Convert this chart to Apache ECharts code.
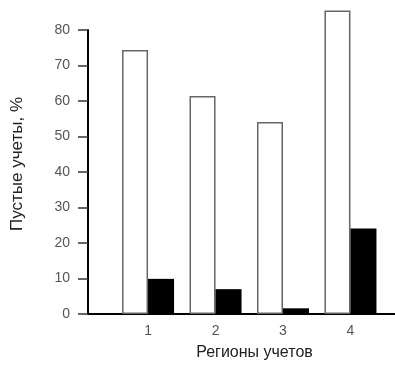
<!DOCTYPE html>
<html>
<head>
<meta charset="utf-8">
<script src="https://cdn.jsdelivr.net/npm/echarts@6/dist/echarts.min.js"></script>
<style>html,body{margin:0;padding:0;background:#fff}#c{width:395px;height:365px}</style>
</head>
<body>
<div id="c"></div>
<script>
const categories = [1, 2, 3, 4];
const categoryLabels = ['1', '2', '3', '4'];
const whiteValues = [74.4, 61.4, 54.1, 85.5];
const blackValues = [9.9, 7.0, 1.6, 24.1];
const yTicks = [0, 10, 20, 30, 40, 50, 60, 70, 80];

const chart = echarts.init(document.getElementById('c'));
chart.setOption({
  animation: false,
  backgroundColor: '#fff',
  grid: { left: 88, right: 0, top: 30, bottom: 51, containLabel: false, outerBoundsMode: 'none' },
  xAxis: {
    type: 'value',
    min: 0.11,
    max: 4.66,
    name: 'Регионы учетов',
    nameLocation: 'middle',
    nameGap: 31,
    nameTextStyle: { fontFamily: 'Liberation Sans', fontSize: 16, color: '#222', padding: [0, 0, 0, 26] },
    axisLine: { show: true, lineStyle: { color: '#000', width: 2 } },
    axisTick: { show: false },
    splitLine: { show: false },
    axisLabel: {
      customValues: categories,
      formatter: v => categoryLabels[categories.indexOf(v)] ?? '',
      fontFamily: 'Liberation Sans', fontSize: 14, color: '#555', margin: 10
    }
  },
  yAxis: {
    type: 'value',
    min: 0,
    max: 80,
    interval: 10,
    name: 'Пустые учеты, %',
    nameLocation: 'middle',
    nameGap: 62,
    nameRotate: 90,
    nameTextStyle: { fontFamily: 'Liberation Sans', fontSize: 17, color: '#222', padding: [0, 0, 0, 16] },
    axisLine: { show: true, lineStyle: { color: '#000', width: 2 } },
    axisTick: { show: true, length: 10, lineStyle: { color: '#333', width: 1.5 } },
    splitLine: { show: false },
    axisLabel: { fontFamily: 'Liberation Sans', fontSize: 14, color: '#555', margin: 18 }
  },
  series: [
    {
      type: 'bar',
      clip: false,
      barWidth: 26,
      barGap: '0%',
      data: categories.map((c, i) => [c, whiteValues[i]]),
      itemStyle: { color: '#fff', borderColor: '#666', borderWidth: 1.5 }
    },
    {
      type: 'bar',
      clip: false,
      barWidth: 26,
      barGap: '0%',
      data: categories.map((c, i) => [c, blackValues[i]]),
      itemStyle: { color: '#000' }
    }
  ]
});
</script>
</body>
</html>
